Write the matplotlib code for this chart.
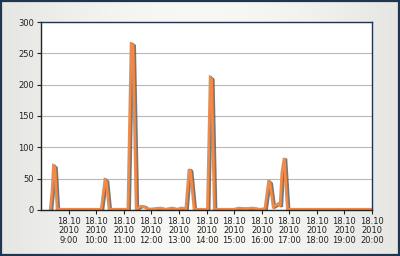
import numpy as np
import pandas as pd
import matplotlib
matplotlib.use("Agg")
import matplotlib.pyplot as plt
import matplotlib.patheffects as pe
from matplotlib.patches import Rectangle

# breakpoints of the series (time of day, value)
times = ["08:20", "08:24", "08:27", "08:30", "08:35", "08:40", "09:30", "10:11",
         "10:19", "10:22", "10:28", "10:40", "11:09", "11:16", "11:20", "11:27",
         "11:33", "11:38", "11:45", "11:52", "12:20", "12:30", "12:45", "12:55",
         "13:05", "13:15", "13:22", "13:25", "13:33", "13:45", "14:02", "14:08",
         "14:11", "14:17", "14:30", "15:00", "15:10", "15:25", "15:40", "15:55",
         "16:07", "16:15", "16:18", "16:25", "16:32", "16:36", "16:40", "16:44",
         "16:49", "16:56", "17:10", "18:00", "19:00", "20:00"]
values = [0, 30, 70, 68, 2, 1, 1, 1,
          48, 46, 1, 1, 1, 265, 263, 1,
          4, 6, 5, 1, 3, 1, 3, 1,
          3, 2, 65, 62, 1, 1, 1, 211,
          209, 1, 1, 1, 3, 2, 3, 1,
          2, 45, 43, 5, 8, 10, 6, 60,
          83, 1, 1, 1, 1, 1]

day = "2010-10-18"
x = pd.to_datetime([day + " " + t for t in times])
yticks = [0, 50, 100, 150, 200, 250, 300]
hours = list(range(9, 21))
xticks = pd.to_datetime([f"{day} {h:02d}:00" for h in hours])
xlabels = [f"18.10\n2010\n{h}:00" for h in hours]

fig = plt.figure(figsize=(4, 2.56), dpi=100)
fig.patch.set_facecolor("#eeeeec")

# soft light-gray gradient background
bg = fig.add_axes([0, 0, 1, 1], zorder=-5)
g = np.linspace(0, 1, 256)
c0 = np.array([0.90, 0.90, 0.89])
c1 = np.array([0.97, 0.97, 0.96])
row = c0 + (c1 - c0) * np.abs(np.sin(np.pi * g))[:, None]
img = np.stack([row] * 2, axis=0)
bg.imshow(img, aspect="auto", extent=[0, 1, 0, 1])
bg.axis("off")
fig.patches.append(Rectangle((0.002, 0.003), 0.995, 0.993, transform=fig.transFigure,
                             fill=False, edgecolor="#1f3550", linewidth=1.6))

ax = fig.add_axes([0.1025, 0.18, 0.8275, 0.734])
ax.set_facecolor("white")
ax.plot(x, values, color="#f08a48", linewidth=2.0, solid_joinstyle="miter",
        path_effects=[pe.SimpleLineShadow(offset=(1.2, -0.4), shadow_color="#555555", alpha=0.8),
                      pe.Normal()])

ax.set_xlim(pd.Timestamp(day + " 08:00"), pd.Timestamp(day + " 20:00"))
ax.set_ylim(0, 300)
ax.set_yticks(yticks)
ax.set_yticklabels([str(v) for v in yticks], fontsize=6, color="#222222")
ax.set_xticks(xticks)
ax.set_xticklabels(xlabels, fontsize=6, color="#222222", linespacing=1.05)
ax.yaxis.grid(True, color="#b8b8b8", linewidth=0.8)
ax.set_axisbelow(True)
ax.tick_params(axis="both", length=3, width=0.8, color="#222222", pad=2)
for s in ["left", "bottom"]:
    ax.spines[s].set_color("#222222")
    ax.spines[s].set_linewidth(1.0)
for s in ["top", "right"]:
    ax.spines[s].set_color("#1f3550")
    ax.spines[s].set_linewidth(1.0)

fig.savefig("out.png", dpi=100, facecolor=fig.get_facecolor())
